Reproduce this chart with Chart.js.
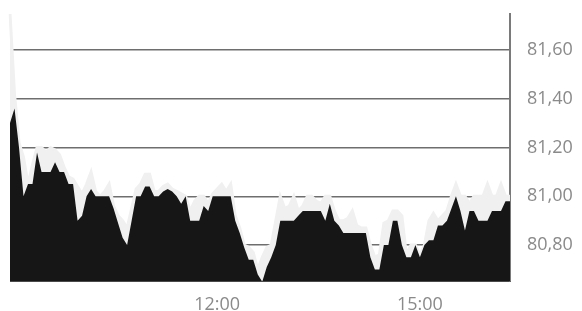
<!DOCTYPE html>
<html>
<head>
<meta charset="utf-8">
<script src="https://cdn.jsdelivr.net/npm/chart.js@4/dist/chart.umd.min.js"></script>
<style>
html,body{margin:0;padding:0;background:#fff;}
#wrap{width:582px;height:311px;position:relative;}
</style>
</head>
<body>
<div id="wrap"><canvas id="quoteChart"></canvas></div>
<script>
/* 4-Minuten-Raster 8:56 .. 16:20 */
const startMin=536,stepMin=4,nPts=112;
const times=[];
for(let i=0;i<nPts;i++){
  const m=startMin+i*stepMin;
  times.push(Math.floor(m/60)+':'+String(m%60).padStart(2,'0'));
}
const shownTimes=['12:00','15:00'];
const yTicks=[80.8,81.0,81.2,81.4,81.6];

/* Tiefst- (schwarz) und Höchstkurs (hellgrau) */
const lowVals=[
81.30,81.36,81.20,81.00,81.05,81.05,81.18,81.10,81.10,81.10,
81.14,81.10,81.10,81.05,81.05,80.90,80.92,81.00,81.03,81.00,
81.00,81.00,81.00,80.95,80.89,80.83,80.80,80.90,81.00,81.00,
81.04,81.04,81.00,81.00,81.02,81.03,81.02,81.00,80.97,81.00,
80.90,80.90,80.90,80.96,80.94,81.00,81.00,81.00,81.00,81.00,
80.90,80.85,80.79,80.74,80.74,80.68,80.65,80.71,80.75,80.80,
80.90,80.90,80.90,80.90,80.92,80.94,80.94,80.94,80.94,80.94,
80.90,80.97,80.90,80.88,80.85,80.85,80.85,80.85,80.85,80.85,
80.75,80.70,80.70,80.80,80.80,80.90,80.90,80.80,80.75,80.75,
80.80,80.75,80.80,80.82,80.82,80.88,80.88,80.90,80.95,81.00,
80.94,80.86,80.94,80.94,80.90,80.90,80.90,80.94,80.94,80.94,
80.98,80.98];
const highVals=[
81.75,81.42,81.22,81.16,81.05,81.13,81.20,81.20,81.18,81.20,
81.19,81.17,81.12,81.08,81.07,81.04,81.01,81.05,81.10,81.02,
81.00,81.02,81.05,80.96,80.92,80.90,80.87,80.95,81.03,81.05,
81.09,81.09,81.02,81.02,81.04,81.05,81.03,81.02,81.01,81.00,
80.94,80.98,81.00,81.00,80.97,81.01,81.03,81.05,81.02,81.05,
80.92,80.87,80.80,80.79,80.77,80.70,80.75,80.79,80.80,80.90,
81.00,80.95,80.96,81.00,80.94,80.96,81.00,81.00,80.98,80.97,
81.00,81.00,80.94,80.90,80.90,80.91,80.94,80.88,80.87,80.87,
80.80,80.75,80.76,80.89,80.90,80.94,80.94,80.92,80.76,80.80,
80.80,80.76,80.80,80.90,80.93,80.90,80.92,80.94,81.00,81.05,
81.00,81.00,80.97,81.00,81.00,81.00,81.05,81.00,81.00,81.05,
81.00,81.00];

const tickFont={family:'"Open Sans", sans-serif',size:18};
const tickColor='#8a8a8a';

new Chart(document.getElementById('quoteChart'),{
  type:'line',
  data:{
    labels:times,
    datasets:[
      {data:lowVals,backgroundColor:'#161616',borderColor:'#161616',borderWidth:0,fill:'start',pointRadius:0,tension:0},
      {data:highVals,backgroundColor:'#f0f0f0',borderColor:'#f0f0f0',borderWidth:3,fill:'start',pointRadius:0,tension:0}
    ]
  },
  options:{
    responsive:true,maintainAspectRatio:false,animation:false,
    layout:{padding:{top:14,left:10,right:0,bottom:0}},
    plugins:{legend:{display:false},tooltip:{enabled:false}},
    scales:{
      x:{
        type:'category',offset:false,
        grid:{display:false,drawTicks:false},
        border:{display:true,color:'#4a4a4a',width:1},
        afterFit(s){s.height=30;s.paddingLeft=0;s.paddingRight=0;},
        ticks:{autoSkip:false,maxRotation:0,padding:13,color:tickColor,font:tickFont,
          callback(v){const l=this.getLabelForValue(v);return shownTimes.includes(l)?l:null;}}
      },
      y:{
        position:'right',min:80.653,max:81.747,
        afterBuildTicks(s){s.ticks=yTicks.map(v=>({value:v}));},
        afterFit(s){s.width=72;s.paddingTop=0;s.paddingBottom=0;},
        grid:{color:'#6e6e6e',lineWidth:1.5,drawTicks:false},
        border:{display:true,color:'#7a7a7a',width:2},
        ticks:{padding:17,color:tickColor,font:tickFont,callback:v=>(+v).toFixed(2).replace('.',',')}
      }
    }
  }
});
</script>
</body>
</html>
